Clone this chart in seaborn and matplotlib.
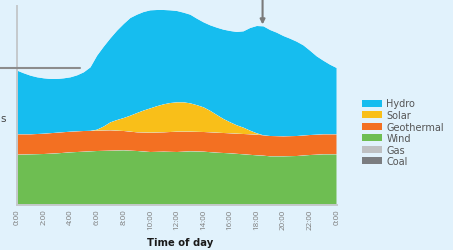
import matplotlib
matplotlib.use("Agg")
import matplotlib.pyplot as plt
import matplotlib.transforms as mtransforms
import seaborn as sns
import seaborn.objects as so
import pandas as pd
from matplotlib.patches import Patch
from matplotlib.lines import Line2D

# ---- data (MW, half-hourly) ----
hours = [0, 0.5, 1, 1.5, 2, 2.5, 3, 3.5, 4, 4.5, 5, 5.5, 6, 6.5, 7, 7.5, 8, 8.5,
         9, 9.5, 10, 10.5, 11, 11.5, 12, 12.5, 13, 13.5, 14, 14.5, 15, 15.5, 16,
         16.5, 17, 17.5, 18, 18.5, 19, 19.5, 20, 20.5, 21, 21.5, 22, 22.5, 23,
         23.5, 24]
coal = [0, 0, 0, 0, 0, 0, 0, 0, 0, 0, 0, 0, 0, 0, 0, 0, 0, 0, 0, 0, 0, 0, 0, 0, 0,
        0, 0, 0, 0, 0, 0, 0, 0, 0, 0, 0, 0, 0, 0, 0, 0, 0, 0, 0, 0, 0, 0, 0, 0]
gas = [0, 0, 0, 0, 0, 0, 0, 0, 0, 0, 0, 0, 0, 0, 0, 0, 0, 0, 0, 0, 0, 0, 0, 0, 0,
       0, 0, 0, 0, 0, 0, 0, 0, 0, 0, 0, 0, 0, 0, 0, 0, 0, 0, 0, 0, 0, 0, 0, 0]
wind = [1510, 1515, 1520, 1525, 1530, 1540, 1550, 1565, 1580, 1590, 1600, 1610,
        1620, 1625, 1630, 1635, 1640, 1630, 1620, 1605, 1590, 1595, 1600, 1595,
        1590, 1600, 1610, 1605, 1600, 1585, 1570, 1560, 1550, 1535, 1520, 1505,
        1490, 1480, 1460, 1460, 1460, 1465, 1470, 1485, 1500, 1510, 1520, 1520, 1520]
geothermal = [610, 605, 600, 605, 610, 615, 620, 620, 620, 620, 620, 615, 610, 610,
              610, 595, 580, 570, 560, 570, 580, 580, 580, 595, 610, 600, 590, 590,
              590, 595, 600, 600, 600, 605, 610, 615, 620, 610, 610, 605, 600, 600,
              600, 600, 600, 600, 600, 600, 600]
solar = [0, 0, 0, 0, 0, 0, 0, 0, 0, 0, 0, 0, 30, 120, 240, 320, 390, 480, 580, 660,
         730, 790, 840, 870, 880, 880, 850, 800, 740, 645, 530, 420, 330, 250, 190,
         110, 40, 0, 0, 0, 0, 0, 0, 0, 0, 0, 0, 0, 0]
hydro = [1910, 1830, 1760, 1700, 1660, 1625, 1610, 1615, 1630, 1680, 1760, 1905,
         2220, 2395, 2520, 2680, 2820, 2930, 2950, 2955, 2940, 2885, 2830, 2780,
         2740, 2690, 2660, 2595, 2550, 2565, 2620, 2680, 2740, 2800, 2890, 3080,
         3220, 3270, 3180, 3105, 3010, 2925, 2830, 2705, 2530, 2350, 2210, 2090, 1990]

tick_hours = [0, 2, 4, 6, 8, 10, 12, 14, 16, 18, 20, 22, 24]
tick_labels = ["0:00", "2:00", "4:00", "6:00", "8:00", "10:00", "12:00", "14:00",
               "16:00", "18:00", "20:00", "22:00", "0:00"]
legend_order = ["Hydro", "Solar", "Geothermal", "Wind", "Gas", "Coal"]
stack_order = ["Coal", "Gas", "Wind", "Geothermal", "Solar", "Hydro"]

colors = {"Hydro": "#16BDEF", "Solar": "#F9BF19", "Geothermal": "#F37022",
          "Wind": "#6EBE52", "Gas": "#BEC0C2", "Coal": "#7B7D80"}
BG = "#E1F2FC"

series = {"Coal": coal, "Gas": gas, "Wind": wind, "Geothermal": geothermal,
          "Solar": solar, "Hydro": hydro}
rows = []
for src in stack_order:
    for h, v in zip(hours, series[src]):
        rows.append({"hour": h, "MW": v, "source": src})
df = pd.DataFrame(rows)
df["source"] = pd.Categorical(df["source"], categories=stack_order, ordered=True)

sns.set_theme(style="white")
plt.rcParams["font.family"] = ["DejaVu Sans"]

W, H = 453, 251
fig = plt.figure(figsize=(W / 100, H / 100), dpi=100, facecolor=BG)
ax = fig.add_axes([17.3 / W, (H - 206) / H, (336.7 - 17.3) / W, (206 - 7) / H])
ax.set_facecolor(BG)

(
    so.Plot(df, x="hour", y="MW", color="source")
    .add(so.Area(alpha=1, edgewidth=0), so.Stack(), legend=False)
    .scale(color=so.Nominal(colors, order=stack_order))
    .on(ax)
    .plot()
)

ax.set_facecolor(BG)
ax.grid(False)
ax.set_xlim(0, 24)
ax.set_ylim(0, 5970)
ax.set_xticks(tick_hours)
ax.set_xticklabels(tick_labels, rotation=90, fontsize=5.8, color="#7c7c7c",
                   va="top", family=["Open Sans", "DejaVu Sans"])
shift = mtransforms.ScaledTranslation(1.8 / 100, 0, fig.dpi_scale_trans)
for lab in ax.get_xticklabels():
    lab.set_transform(lab.get_transform() + shift)
ax.set_yticks([])
ax.tick_params(axis="x", length=0, pad=2.5)
ax.set_xlabel("")
ax.set_ylabel("")
for s in ["top", "right"]:
    ax.spines[s].set_visible(False)
for s in ["left", "bottom"]:
    ax.spines[s].set_visible(True)
    ax.spines[s].set_color("#c5c9cc")
    ax.spines[s].set_linewidth(1.4)
    ax.spines[s].set_zorder(5)

fig.text(180 / W, 1 - 243 / H, "Time of day", ha="center", va="center",
         fontsize=7.2, fontweight="bold", color="#1a1a1a")

# cropped annotation pieces
fig.add_artist(Line2D([0, 80 / W], [1 - 68.5 / H, 1 - 68.5 / H],
                      color="#8c8c8c", lw=1.5, transform=fig.transFigure))
fig.text(0.5 / W, 1 - 119 / H, "s", ha="left", va="center", fontsize=7.5,
         color="#444444")
ax.annotate("", xy=(18.43, (206 - 25.5) * 30), xytext=(18.43, 6400),
            arrowprops=dict(arrowstyle="-|>", color="#7a7a7a", lw=1.5,
                            mutation_scale=7, shrinkA=0, shrinkB=0),
            annotation_clip=False)

handles = [Patch(facecolor=colors[k], edgecolor="none", label=k) for k in legend_order]
fig.legend(handles=handles, loc="upper left", bbox_to_anchor=(362 / W, 1 - 99.5 / H),
           frameon=False, fontsize=7, labelcolor="#555555", handlelength=2.1,
           handleheight=0.72, handletextpad=0.4, labelspacing=0.16,
           borderpad=0, borderaxespad=0)

fig.savefig("out.png", dpi=100, facecolor=BG)
